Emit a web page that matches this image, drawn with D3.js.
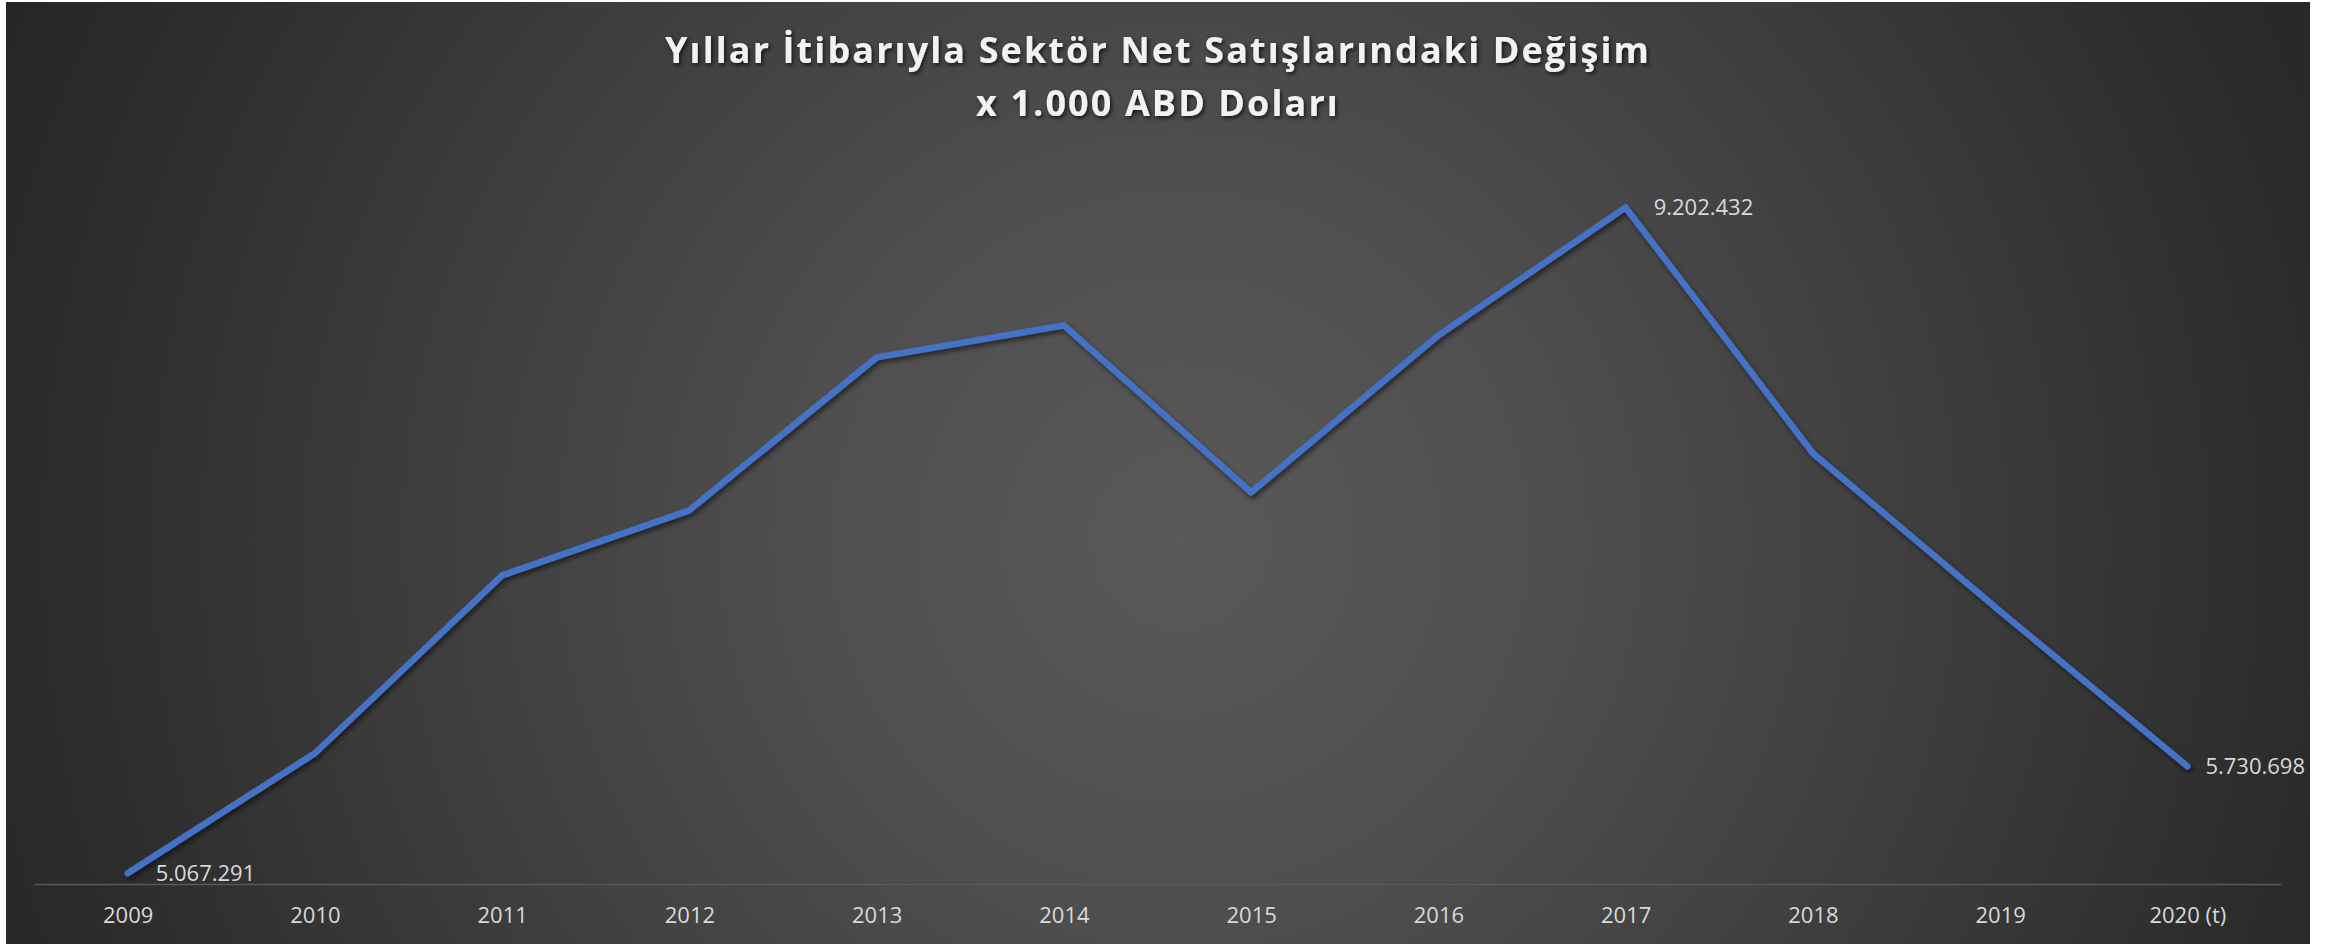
<!DOCTYPE html>
<html>
<head>
<meta charset="utf-8">
<script src="https://cdn.jsdelivr.net/npm/d3@7"></script>
<style>
  body { margin: 0; background: #ffffff; }
  svg { display: block; }
</style>
</head>
<body>
<div id="chart"></div>
<script>
// data
var years = ["2009", "2010", "2011", "2012", "2013", "2014", "2015", "2016", "2017", "2018", "2019", "2020 (t)"];
var sales = [5067291, 5812000, 6917000, 7321000, 8271000, 8470000, 7433000, 8408000, 9202432, 7675000, 6694000, 5730698];
var labelled = [0, 8, 11];   // only these points carry a value label
var titleLines = ["Yıllar İtibarıyla Sektör Net Satışlarındaki Değişim", "x 1.000 ABD Doları"];

var W = 2343, H = 944;
var box = { left: 6, top: 2, right: 2310, bottom: 944 };

var svg = d3.select("#chart").append("svg")
    .attr("width", W)
    .attr("height", H);

var defs = svg.append("defs");

var grad = defs.append("radialGradient")
    .attr("id", "bg")
    .attr("gradientUnits", "userSpaceOnUse")
    .attr("cx", 1180).attr("cy", 540).attr("r", 1300);
[[0, "#595959"], [0.28, "#4f4f4f"], [0.54, "#404040"], [0.85, "#2d2d2d"], [1, "#262626"]]
    .forEach(function(s) {
        grad.append("stop").attr("offset", s[0]).attr("stop-color", s[1]);
    });

var shadow = defs.append("filter").attr("id", "lineShadow")
    .attr("x", "-5%").attr("y", "-5%").attr("width", "110%").attr("height", "110%");
shadow.append("feDropShadow")
    .attr("dx", 2).attr("dy", 3).attr("stdDeviation", 2.5)
    .attr("flood-color", "#000").attr("flood-opacity", 0.55);

var tShadow = defs.append("filter").attr("id", "titleShadow")
    .attr("x", "-5%").attr("y", "-30%").attr("width", "110%").attr("height", "160%");
tShadow.append("feDropShadow")
    .attr("dx", 1.5).attr("dy", 2).attr("stdDeviation", 2)
    .attr("flood-color", "#000").attr("flood-opacity", 0.75);

svg.append("rect")
    .attr("x", box.left).attr("y", box.top)
    .attr("width", box.right - box.left)
    .attr("height", box.bottom - box.top)
    .attr("fill", "url(#bg)");

// scales
var x = d3.scalePoint().domain(years).range([34, 2281]).padding(0.5);
var y = d3.scaleLinear().domain([5000000, 10000000]).range([884, 79]);

// title
var title = svg.append("text")
    .attr("text-anchor", "middle")
    .attr("font-family", "'Open Sans', sans-serif")
    .attr("font-weight", "bold")
    .attr("font-size", 36)
    .attr("letter-spacing", 2.1)
    .attr("fill", "#f2f2f2")
    .attr("filter", "url(#titleShadow)");
title.selectAll("tspan")
    .data(titleLines)
    .enter().append("tspan")
    .attr("x", (box.left + box.right) / 2)
    .attr("y", function(d, i) { return 63 + i * 53; })
    .text(function(d) { return d; });

// x axis
var xAxis = d3.axisBottom(x).tickSize(0).tickPadding(0);
var gx = svg.append("g")
    .attr("transform", "translate(0," + y(5000000) + ")")
    .call(xAxis);
gx.select(".domain")
    .attr("stroke", "#5a5a5a")
    .attr("stroke-width", 1.5);
gx.selectAll("text")
    .attr("font-family", "'Open Sans', sans-serif")
    .attr("font-size", 22)
    .attr("fill", "#d9d9d9")
    .attr("dy", 0)
    .attr("y", 39);

// line
var line = d3.line()
    .x(function(d, i) { return x(years[i]); })
    .y(function(d) { return y(d); });

svg.append("path")
    .datum(sales)
    .attr("d", line)
    .attr("fill", "none")
    .attr("stroke", "#4472c4")
    .attr("stroke-width", 6.5)
    .attr("stroke-linejoin", "round")
    .attr("stroke-linecap", "round")
    .attr("filter", "url(#lineShadow)");

// data labels
var fmt = function(v) { return d3.format(",")(v).replace(/,/g, "."); };
svg.append("g").selectAll("text")
    .data(labelled)
    .enter().append("text")
    .attr("x", function(i) { return x(years[i]) + (i === 11 ? 18 : 28); })
    .attr("y", function(i) { return y(sales[i]) + 8; })
    .attr("font-family", "'Open Sans', sans-serif")
    .attr("font-size", 22)
    .attr("fill", "#d9d9d9")
    .text(function(i) { return fmt(sales[i]); });
</script>
</body>
</html>
